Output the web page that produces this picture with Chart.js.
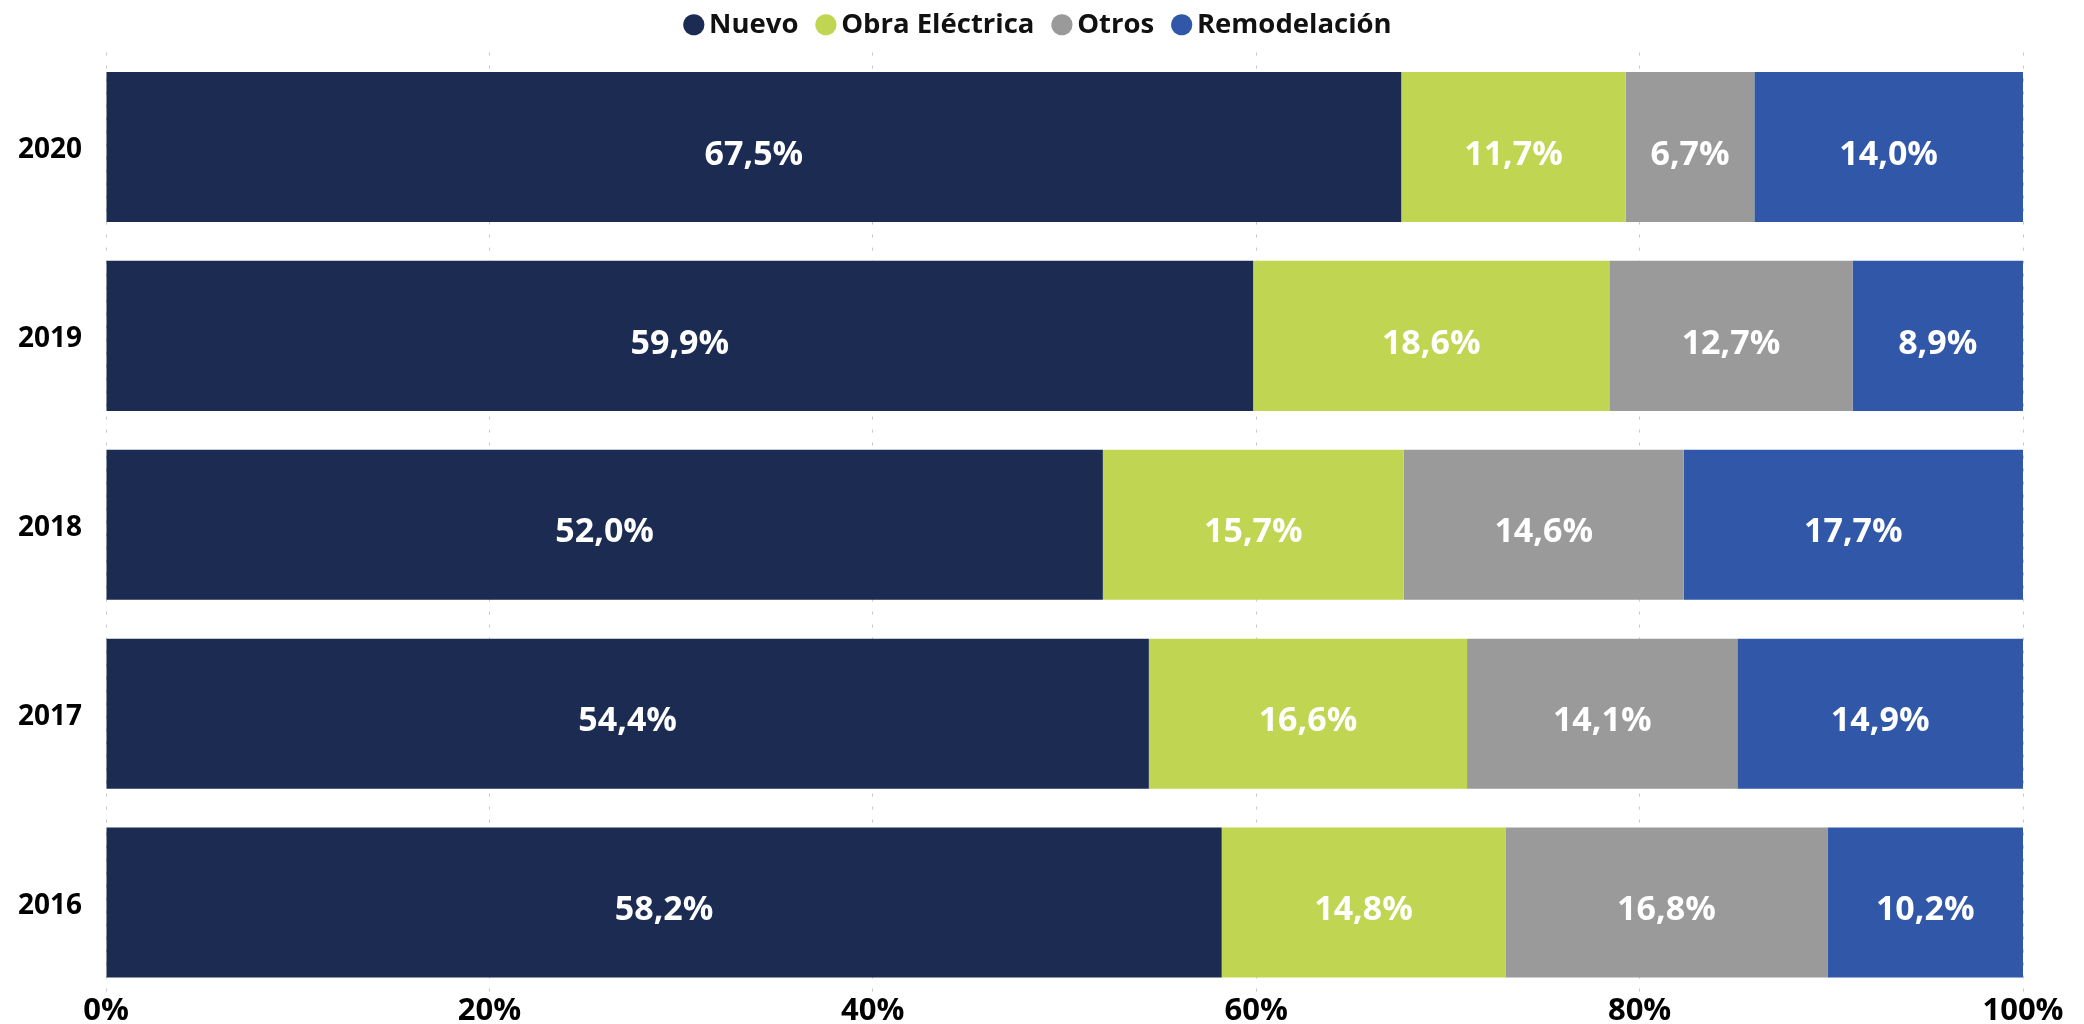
<!DOCTYPE html>
<html>
<head>
<meta charset="utf-8">
<script src="https://cdn.jsdelivr.net/npm/chart.js@4/dist/chart.umd.min.js"></script>
<style>
  html, body { margin: 0; padding: 0; background: #fff; }
  #wrap { width: 2084px; height: 1024px; position: relative; }
</style>
</head>
<body>
<div id="wrap"><canvas id="chart"></canvas></div>
<script>
const years = ['2020', '2019', '2018', '2017', '2016'];
const nuevo = [67.5, 59.9, 52.0, 54.4, 58.2];
const obraElectrica = [11.7, 18.6, 15.7, 16.6, 14.8];
const otros = [6.7, 12.7, 14.6, 14.1, 16.8];
const remodelacion = [14.0, 8.9, 17.7, 14.9, 10.2];
const xTicks = [0, 20, 40, 60, 80, 100];

const seriesNames = ['Nuevo', 'Obra Eléctrica', 'Otros', 'Remodelación'];
const seriesValues = [nuevo, obraElectrica, otros, remodelacion];
const seriesColors = ['#1B2B52', '#C0D551', '#9A9A9A', '#3157A8'];

const FONT = "'Open Sans', 'Noto Sans', sans-serif";

// 100% stacked: each row scaled to its own total
const totals = years.map((_, i) => seriesValues.reduce((s, arr) => s + arr[i], 0));

const fmt = v => v.toFixed(1).replace('.', ',') + '%';

// white value labels centred in every segment
const segmentLabels = {
  id: 'segmentLabels',
  afterDatasetsDraw(chart) {
    const { ctx } = chart;
    ctx.save();
    ctx.font = `bold 34px ${FONT}`;
    ctx.fillStyle = '#ffffff';
    ctx.textAlign = 'center';
    ctx.textBaseline = 'middle';
    chart.data.datasets.forEach((ds, i) => {
      const meta = chart.getDatasetMeta(i);
      meta.data.forEach((bar, j) => {
        const { x, y, base } = bar.getProps(['x', 'y', 'base'], true);
        ctx.fillText(fmt(ds.raw[j]), (x + base) / 2, y + 8);
      });
    });
    ctx.restore();
  },
};

new Chart(document.getElementById('chart'), {
  type: 'bar',
  data: {
    labels: years,
    datasets: seriesNames.map((name, k) => ({
      label: name,
      raw: seriesValues[k],
      data: seriesValues[k].map((v, i) => v / totals[i] * 100),
      backgroundColor: seriesColors[k],
      borderWidth: 0,
      barPercentage: 0.7945,
      categoryPercentage: 1,
    })),
  },
  options: {
    indexAxis: 'y',
    responsive: true,
    maintainAspectRatio: false,
    animation: false,
    layout: { padding: { top: -15, right: 0, bottom: 0, left: 0 } },
    plugins: {
      legend: {
        position: 'top',
        align: 'center',
        labels: {
          usePointStyle: true,
          pointStyle: 'circle',
          boxWidth: 3,
          boxHeight: 15,
          padding: 26,
          color: '#111',
          font: { family: FONT, size: 27.5, weight: 'bold' },
        },
      },
      // empty spacer between legend and plot
      subtitle: {
        display: true,
        text: '',
        weight: 500,
        padding: 0,
        font: { size: 3.4 },
      },
      tooltip: { enabled: false },
    },
    scales: {
      x: {
        stacked: true,
        min: 0,
        max: 100,
        afterBuildTicks: axis => { axis.ticks = xTicks.map(v => ({ value: v })); },
        afterFit: axis => { axis.height = 27; },
        grid: { color: '#c8c8c8', lineWidth: 1, drawTicks: false },
        border: { display: false, dash: [3, 10] },
        ticks: {
          padding: -4,
          color: '#000',
          font: { family: FONT, size: 31, weight: 'bold' },
          callback: v => v + '%',
        },
      },
      y: {
        stacked: true,
        afterFit: axis => { axis.width = 106; },
        grid: { display: false, drawTicks: true, tickLength: 24 },
        border: { display: false },
        ticks: {
          padding: 0,
          labelOffset: 3,
          color: '#000',
          font: { family: FONT, size: 28, weight: 'bold' },
        },
      },
      // blank strip on the right, keeps the legend centred on the page
      yRight: {
        position: 'right',
        display: true,
        grid: { display: false, drawTicks: false },
        border: { display: false },
        ticks: { display: false },
        afterFit: axis => { axis.width = 61; },
      },
    },
  },
  plugins: [segmentLabels],
});
</script>
</body>
</html>
